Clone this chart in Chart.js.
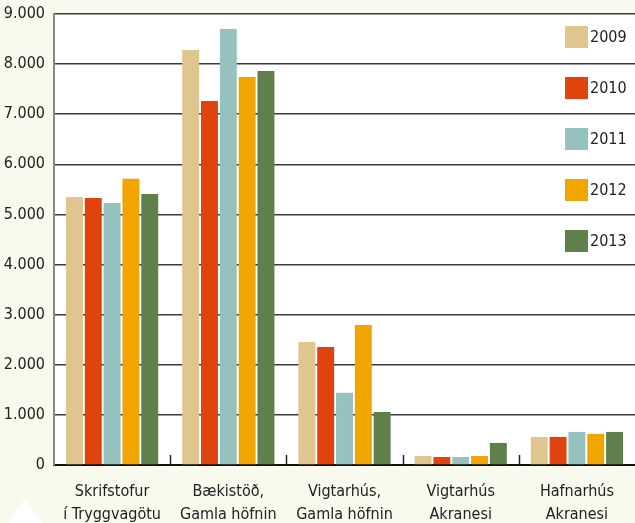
<!DOCTYPE html>
<html>
<head>
<meta charset="utf-8">
<script src="https://cdn.jsdelivr.net/npm/chart.js@4.4.1/dist/chart.umd.min.js"></script>
<style>
  html, body { margin: 0; padding: 0; background: #f7faed; }
  #wrap { width: 635px; height: 523px; position: relative; }
</style>
</head>
<body>
<div id="wrap"><canvas id="myChart"></canvas></div>
<script>
// Data
const categories = [
  ['Skrifstofur', 'í Tryggvagötu'],
  ['Bækistöð,', 'Gamla höfnin'],
  ['Vigtarhús,', 'Gamla höfnin'],
  ['Vigtarhús', 'Akranesi'],
  ['Hafnarhús', 'Akranesi']
];
const years = ['2009', '2010', '2011', '2012', '2013'];
const values2009 = [5350, 8280, 2455, 180, 560];
const values2010 = [5330, 7265, 2355, 160, 560];
const values2011 = [5230, 8700, 1440, 160, 660];
const values2012 = [5710, 7745, 2795, 180, 620];
const values2013 = [5410, 7865, 1060, 440, 660];
const yTickLabels = ['0', '1.000', '2.000', '3.000', '4.000', '5.000', '6.000', '7.000', '8.000', '9.000'];

const colors = ['#e0c58e', '#e0430e', '#95c1bf', '#f0a500', '#5f804b'];
const allValues = [values2009, values2010, values2011, values2012, values2013];
const fontFamily = "'DejaVu Sans Condensed', 'Liberation Sans', sans-serif";

// White plot area, corner triangle, short category ticks and the legend
const decorations = {
  id: 'decorations',
  beforeDraw(chart) {
    const { ctx, chartArea } = chart;
    ctx.save();
    ctx.fillStyle = '#ffffff';
    ctx.fillRect(chartArea.left, chartArea.top, chartArea.right - chartArea.left, chartArea.bottom - chartArea.top);
    // small white triangle in the bottom left corner
    ctx.beginPath();
    ctx.moveTo(25, 498);
    ctx.lineTo(42, 523);
    ctx.lineTo(8, 523);
    ctx.closePath();
    ctx.fill();
    ctx.restore();
  },
  afterDraw(chart) {
    const { ctx, chartArea } = chart;
    const x = chart.scales.x;
    ctx.save();
    // short upward ticks between categories
    ctx.strokeStyle = '#222';
    ctx.lineWidth = 1.5;
    for (let i = 0; i < categories.length - 1; i++) {
      const px = Math.round((x.getPixelForValue(i) + x.getPixelForValue(i + 1)) / 2) + 0.5;
      ctx.beginPath();
      ctx.moveTo(px, chartArea.bottom);
      ctx.lineTo(px, chartArea.bottom - 10);
      ctx.stroke();
    }
    // legend
    ctx.font = '16px ' + fontFamily;
    ctx.textBaseline = 'middle';
    ctx.textAlign = 'left';
    chart.data.datasets.forEach((ds, i) => {
      const cy = chartArea.top + 23 + i * 51;
      ctx.fillStyle = ds.backgroundColor;
      ctx.fillRect(565, cy - 11, 23, 22);
      ctx.fillStyle = '#222';
      ctx.fillText(ds.label, 590, cy + 1);
    });
    ctx.restore();
  }
};

const ctx = document.getElementById('myChart').getContext('2d');
const myChart = new Chart(ctx, {
  type: 'bar',
  data: {
    labels: categories,
    datasets: years.map((year, i) => ({
      label: year,
      data: allValues[i],
      backgroundColor: colors[i],
      borderWidth: 0,
      categoryPercentage: 0.81,
      barPercentage: 0.9
    }))
  },
  options: {
    responsive: true,
    maintainAspectRatio: false,
    animation: false,
    layout: { padding: { top: 14, right: 0, left: 0, bottom: 0 } },
    plugins: {
      legend: { display: false },
      tooltip: { enabled: false }
    },
    scales: {
      x: {
        grid: { display: false },
        border: { display: true, color: '#111', width: 2 },
        ticks: {
          color: '#222',
          padding: 8,
          maxRotation: 0,
          font: { family: fontFamily, size: 16, lineHeight: 1.4 }
        },
        afterFit(scale) {
          scale.height = 58;
          scale.paddingLeft = 0;
          scale.paddingRight = 0;
        }
      },
      y: {
        min: 0,
        max: 9000,
        grid: { color: '#3a3a3a', lineWidth: 1.5, drawTicks: false },
        border: { display: true, color: '#888', width: 2 },
        ticks: {
          stepSize: 1000,
          color: '#222',
          padding: 9,
          font: { family: fontFamily, size: 16 },
          callback: (value, index) => yTickLabels[index]
        },
        afterFit(scale) {
          scale.width = 54;
          scale.paddingTop = 0;
          scale.paddingBottom = 0;
        }
      }
    }
  },
  plugins: [decorations]
});
</script>
</body>
</html>
